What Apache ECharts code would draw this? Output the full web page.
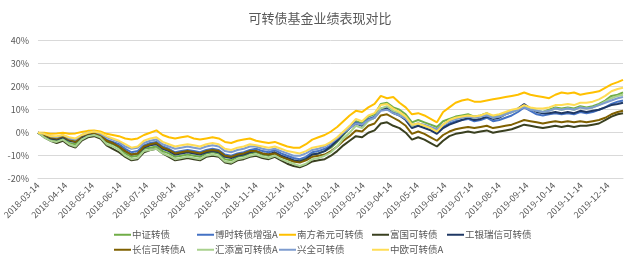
<!DOCTYPE html>
<html><head><meta charset="utf-8">
<script src="https://cdn.jsdelivr.net/npm/echarts@6/dist/echarts.min.js"></script>
<style>html,body{margin:0;padding:0;background:#fff}#c{width:640px;height:262px}</style>
</head><body><div id="c"></div>
<script>
const title = '可转债基金业绩表现对比';
const seriesNames = ['中证转债','博时转债增强A','南方希元可转债','富国可转债','工银瑞信可转债','长信可转债A','汇添富可转债A','兴全可转债','中欧可转债A'];
const seriesColors = ['#70AD47','#4472C4','#FFC000','#3A4020','#1F3864','#7F6000','#A9D18E','#7E9CCF','#FFDD55'];
const yTicks = [-20,-10,0,10,20,30,40];
const sampleDates = ['2018-03-14','2018-03-21','2018-03-28','2018-04-04','2018-04-11','2018-04-18','2018-04-25','2018-05-02','2018-05-09','2018-05-16','2018-05-23','2018-05-30','2018-06-06','2018-06-13','2018-06-20','2018-06-27','2018-07-04','2018-07-11','2018-07-18','2018-07-25','2018-08-01','2018-08-08','2018-08-15','2018-08-22','2018-08-29','2018-09-05','2018-09-12','2018-09-19','2018-09-26','2018-10-03','2018-10-10','2018-10-17','2018-10-24','2018-10-31','2018-11-07','2018-11-14','2018-11-21','2018-11-28','2018-12-05','2018-12-12','2018-12-19','2018-12-26','2019-01-02','2019-01-09','2019-01-16','2019-01-23','2019-01-30','2019-02-06','2019-02-13','2019-02-20','2019-02-27','2019-03-06','2019-03-13','2019-03-20','2019-03-27','2019-04-03','2019-04-10','2019-04-17','2019-04-24','2019-05-01','2019-05-08','2019-05-15','2019-05-22','2019-05-29','2019-06-05','2019-06-12','2019-06-19','2019-06-26','2019-07-03','2019-07-10','2019-07-17','2019-07-24','2019-07-31','2019-08-07','2019-08-14','2019-08-21','2019-08-28','2019-09-04','2019-09-11','2019-09-18','2019-09-25','2019-10-02','2019-10-09','2019-10-16','2019-10-23','2019-10-30','2019-11-06','2019-11-13','2019-11-20','2019-11-27','2019-12-04','2019-12-11','2019-12-18','2019-12-25','2019-12-31'];

const zhongzheng = [0,-1.5,-3,-3.5,-2.5,-4.5,-5,-2.5,-1,-0.5,-1.5,-4,-5,-6.5,-9,-10.5,-10,-7,-6.5,-6,-8,-9,-10.5,-10,-9.5,-10,-10.5,-9,-8.5,-9,-11.5,-12,-10.5,-10,-9,-8.5,-9.5,-10,-9,-10.5,-11.5,-12.5,-12,-11,-9.5,-9,-8,-6.5,-4,-1,2,5,4,7,8,12.5,13,11,10,8,4.5,5.5,4.5,3.5,2.5,5,6,7,7.5,8,7,7.5,8.5,7,7.5,8.5,9,10,11.5,10.5,9.5,9,10,11,10.5,11,10.5,11.5,11,11.5,12.5,14,16,16.5,17.5];
const boshi = [0,-1,-2,-2.5,-1.5,-3,-3.5,-1.5,-0.5,0,-1,-3,-4,-5,-7,-8.5,-8,-5.5,-4.5,-4,-6,-7,-8.5,-8,-7.5,-8,-8.5,-7.5,-7,-7.5,-9.5,-10,-9,-8.5,-7.5,-7,-8,-8.5,-7.5,-9,-10,-11,-11.5,-10.5,-8.5,-8,-7,-5.5,-3,0,2,4.5,3.5,6,7,10.5,11,9,8,6,2.5,3.5,2.5,1.5,0,2.5,4,5,5.5,6,5,5.5,6.5,5,5.5,6.5,7.5,9,11,9.5,8,7.5,8,8.5,8,8.5,8,9,8.5,9,10,11,12.5,13.5,14];
const nanfang = [0,0,-0.5,-0.3,0,-0.5,-0.3,0.3,0.8,1,0.5,-0.5,-1,-1.5,-2.5,-3,-2.5,-1,0,1,-1,-2,-2.5,-2,-1.5,-2.5,-3,-2.5,-2,-2.5,-4,-4.5,-3.5,-3,-2.5,-3.5,-4,-4.5,-4,-5,-6,-6.5,-6.5,-5,-3,-2,-1,0.5,2.5,5,7.5,9.5,9,11,12.5,16,15,15.5,13,11,8,8.5,7.5,6,4.5,9,11,13,14,14.5,13.5,13.5,14,14.5,15,15.5,16,16.5,17.5,16.5,16,15.5,15,16.5,17.5,17,17.5,16.5,17,17.5,18,19.5,21,22,23];
const fuguo = [0,-2,-3.5,-4.5,-3.5,-5.5,-6.5,-3.5,-2,-1.5,-2.5,-5.5,-7,-8.5,-10.5,-12,-11.5,-8.5,-7.5,-7,-9,-10.5,-12,-11.5,-11,-11.5,-12,-10.5,-10,-10.5,-13,-13.5,-12,-11.5,-10.5,-10,-11,-11.5,-10.5,-12,-13.5,-14.5,-15,-14,-12.5,-12,-11.5,-10,-8,-5.5,-3.5,-1.5,-2,0,1,4,4.5,3,2,0,-3,-2,-3,-4.5,-6,-3.5,-1.5,-0.5,0,0.5,0,0.5,1,0,0.5,1,1.5,2.5,3.5,3,2.5,2,2.5,3,2.5,3,2.5,3,3,3.5,4,5.5,7,8,8.5];
const gongyin = [0,-1,-2.5,-3,-2,-3.5,-4,-2,-1,-0.5,-1.5,-3.5,-4.5,-6,-8,-9.5,-9,-6.5,-5.5,-5,-7,-8,-9.5,-9,-8.5,-9,-9.5,-8.5,-8,-8.5,-10.5,-11,-10,-9.5,-8.5,-8,-9,-9.5,-8.5,-10,-11,-12,-12.5,-11.5,-9.5,-9,-8,-6,-3.5,-0.5,2,4,3,5.5,6.5,10,10.5,8.5,7.5,5.5,2,3,2,1,-0.5,2,3.5,4.5,5.5,6.5,5.5,6,7,6,6.5,8,9,10.5,12.5,10.5,9,8.5,8.5,9,8.5,9,8.5,9.5,9,9.5,10,11,12,12.5,13];
const changxin = [0,-1,-2,-2.5,-1.5,-3,-4,-1.5,-0.5,0,-1,-3.5,-4.5,-6,-8,-9.5,-9,-6,-5,-4.5,-6.5,-7.5,-9,-8.5,-8,-8.5,-9,-8,-7.5,-8,-10,-10.5,-9.5,-9,-8,-8,-9,-9.5,-9,-10.5,-11.5,-12.5,-13,-12,-10.5,-10,-9.5,-8,-6,-3.5,-1.5,1,0.5,3,4,7.5,8,6.5,5,3,-0.5,0.5,-0.5,-2,-3.5,-1,0.5,1.5,2,2.5,2,2.5,3,2,2.5,3,3.5,4.5,5.5,5,4.5,4,4.5,5,4.5,5,4.5,5,4.5,5,5.5,6.5,8,9,9.5];
const huitianfu = [0,-2,-3.5,-4,-3,-5,-6,-3,-1.5,-1,-2,-5,-6,-7.5,-10,-11.5,-11,-8,-7.5,-7,-9,-10,-11.5,-11,-10.5,-11,-11.5,-10,-9.5,-10,-12.5,-13,-11.5,-11,-10,-9.5,-10.5,-11,-10,-11.5,-12.5,-13.5,-14.5,-13.5,-11.5,-11,-10,-8.5,-6,-2.5,0,3,2,5,6.5,10.5,11.5,9.5,8.5,6.5,3,4,3,2,1,3.5,5,6,6.5,7,6.5,7,8,6.5,7,8,9,10,11.5,10.5,9.5,9,9.5,10.5,10,10.5,10,11,10.5,11,12,13.5,15,16,16.5];
const xingquan = [0,-0.5,-1.5,-2,-1,-2.5,-3,-1,0,0.5,-0.5,-2,-3,-4,-6,-7,-6.5,-4.5,-3.5,-3,-5,-6,-7,-6.5,-6,-6.5,-7,-6,-5.5,-6,-8,-8.5,-7.5,-7,-6,-6,-7,-7.5,-7,-8,-9,-10,-10,-9,-7.5,-7,-6,-4.5,-2.5,0,2,4,3.5,5.5,6.5,9.5,10,8.5,7.5,6,3.5,4,3.5,2.5,1.5,3.5,5,6,6.5,7,6.5,7,7.5,6.5,7,8,9,10,11,10,9.5,9,9.5,10.5,10,10.5,10,11,10.5,11,12,13,14,15,15.5];
const zhongou = [0,-0.5,-1.5,-1.5,-1,-2,-2.5,-1,0,0.5,0,-1.5,-2.5,-3.5,-5,-6.5,-6,-3.5,-2.5,-2,-4,-5,-6,-5.5,-5,-5.5,-6,-5,-4.5,-5,-7,-7.5,-6.5,-6,-5,-5.5,-6,-6.5,-6,-7,-8,-8.5,-9,-8,-6.5,-6,-5.5,-4,-2,0.5,3,6,5,7.5,8.5,12,12.5,10.5,9,7,3.5,4,3,2,0.5,3.5,5.5,6.5,7,7.5,7,7.5,8.5,7.5,8,9,10,10.5,12,11,10.5,10.5,11,12,12,12.5,12,13,13,13.5,14.5,16,18,19,19.5];

const seriesValues = [zhongzheng, boshi, nanfang, fuguo, gongyin, changxin, huitianfu, xingquan, zhongou];

// daily category axis (calendar days)
const axisDays = [];
(function(){
  let t = Date.UTC(2018,2,14); const end = Date.UTC(2019,11,31);
  while (t <= end) { axisDays.push(new Date(t).toISOString().slice(0,10)); t += 86400000; }
})();

const font = '"Noto Sans CJK SC","Noto Sans",sans-serif';
const txt = '#595959';

const legendX = [114,197,279,372,447,114,197,279,372];
const legendY = [230,230,230,230,230,245,245,245,245];

const chart = echarts.init(document.getElementById('c'), null, {renderer:'canvas'});
chart.setOption({
  animation: false,
  backgroundColor: '#fff',
  title: {text: title, left: 'center', top: 7, textStyle: {fontFamily: font, fontSize: 13, fontWeight: 'normal', color: txt}},
  grid: {left: 37, right: 17, top: 40.7, bottom: 83.3, containLabel: false},
  legend: seriesNames.map((n,i)=>({
    data:[n], left: legendX[i], top: legendY[i], icon: 'rect', itemWidth: 17, itemHeight: 2, padding: 0, itemGap: 0,
    textStyle:{fontFamily: font, fontSize: 9.5, color: txt, padding:[0,0,0,-4]}
  })),
  xAxis: {
    type: 'category', data: axisDays, boundaryGap: false,
    axisLine: {show: true, onZero: false, lineStyle: {color: '#D9D9D9'}},
    axisTick: {show: false},
    axisLabel: {
      interval: (idx, val) => val.slice(8) === '14',
      rotate: 45, fontSize: 9, color: txt, fontFamily: font, margin: 5
    },
    splitLine: {show: false}
  },
  yAxis: {
    type: 'value', min: yTicks[0], max: yTicks[yTicks.length-1], interval: 10,
    axisLine: {show: false}, axisTick: {show: false},
    axisLabel: {formatter: '{value}%', fontSize: 9, color: txt, fontFamily: font, margin: 9},
    splitLine: {lineStyle: {color: '#D9D9D9', width: 1}}
  },
  series: seriesNames.map((n,i)=>({
    name: n, type: 'line', symbol: 'none', smooth: false,
    color: seriesColors[i],
    lineStyle: {width: 2, color: seriesColors[i]},
    data: sampleDates.map((d,k)=>[d, seriesValues[i][k]])
  }))
});
</script>
</body></html>
